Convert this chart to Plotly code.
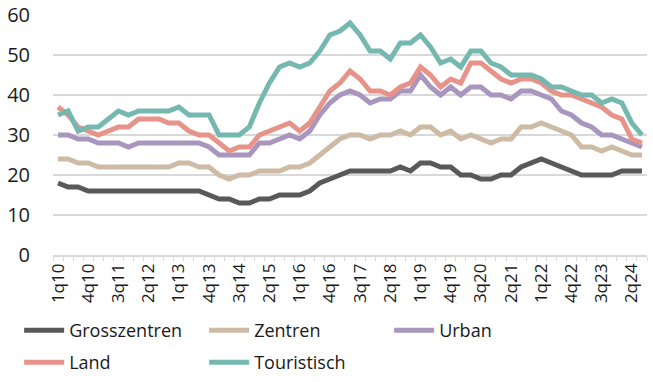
import plotly.graph_objects as go

quarters = [
    "1q10", "2q10", "3q10", "4q10", "1q11", "2q11", "3q11", "4q11",
    "1q12", "2q12", "3q12", "4q12", "1q13", "2q13", "3q13", "4q13",
    "1q14", "2q14", "3q14", "4q14", "1q15", "2q15", "3q15", "4q15",
    "1q16", "2q16", "3q16", "4q16", "1q17", "2q17", "3q17", "4q17",
    "1q18", "2q18", "3q18", "4q18", "1q19", "2q19", "3q19", "4q19",
    "1q20", "2q20", "3q20", "4q20", "1q21", "2q21", "3q21", "4q21",
    "1q22", "2q22", "3q22", "4q22", "1q23", "2q23", "3q23", "4q23",
    "1q24", "2q24", "3q24",
]
tick_labels = ["1q10", "4q10", "3q11", "2q12", "1q13", "4q13", "3q14", "2q15",
               "1q16", "4q16", "3q17", "2q18", "1q19", "4q19", "3q20", "2q21",
               "1q22", "4q22", "3q23", "2q24"]

grosszentren = [18, 17, 17, 16, 16, 16, 16, 16, 16, 16, 16, 16,
                16, 16, 16, 15, 14, 14, 13, 13, 14, 14, 15, 15,
                15, 16, 18, 19, 20, 21, 21, 21, 21, 21, 22, 21,
                23, 23, 22, 22, 20, 20, 19, 19, 20, 20, 22, 23,
                24, 23, 22, 21, 20, 20, 20, 20, 21, 21, 21]
zentren = [24, 24, 23, 23, 22, 22, 22, 22, 22, 22, 22, 22,
           23, 23, 22, 22, 20, 19, 20, 20, 21, 21, 21, 22,
           22, 23, 25, 27, 29, 30, 30, 29, 30, 30, 31, 30,
           32, 32, 30, 31, 29, 30, 29, 28, 29, 29, 32, 32,
           33, 32, 31, 30, 27, 27, 26, 27, 26, 25, 25]
urban = [30, 30, 29, 29, 28, 28, 28, 27, 28, 28, 28, 28,
         28, 28, 28, 27, 25, 25, 25, 25, 28, 28, 29, 30,
         29, 31, 35, 38, 40, 41, 40, 38, 39, 39, 41, 41,
         45, 42, 40, 42, 40, 42, 42, 40, 40, 39, 41, 41,
         40, 39, 36, 35, 33, 32, 30, 30, 29, 28, 27]
land = [37, 35, 32, 31, 30, 31, 32, 32, 34, 34, 34, 33,
        33, 31, 30, 30, 28, 26, 27, 27, 30, 31, 32, 33,
        31, 33, 37, 41, 43, 46, 44, 41, 41, 40, 42, 43,
        47, 45, 42, 44, 43, 48, 48, 46, 44, 43, 44, 44,
        43, 41, 40, 40, 39, 38, 37, 35, 34, 29, 28]
touristisch = [35, 36, 31, 32, 32, 34, 36, 35, 36, 36, 36, 36,
               37, 35, 35, 35, 30, 30, 30, 32, 38, 43, 47, 48,
               47, 48, 51, 55, 56, 58, 55, 51, 51, 49, 53, 53,
               55, 52, 48, 49, 47, 51, 51, 48, 47, 45, 45, 45,
               44, 42, 42, 41, 40, 40, 38, 39, 38, 33, 30]

series = [
    ("Grosszentren", grosszentren, "#595959", "legend"),
    ("Zentren", zentren, "#cdbba6", "legend"),
    ("Urban", urban, "#a996be", "legend"),
    ("Land", land, "#e8938a", "legend2"),
    ("Touristisch", touristisch, "#74b8af", "legend2"),
]

FONT = "Open Sans"
fig = go.Figure()
for name, vals, col, lg in series:
    fig.add_trace(go.Scatter(x=quarters, y=vals, name=name, mode="lines",
                             line=dict(color=col, width=5), legend=lg))

ticktext = [q if q in tick_labels else "" for q in quarters]

legend_common = dict(orientation="h", xanchor="left", yanchor="top",
                     entrywidth=130, entrywidthmode="pixels", itemwidth=40,
                     font=dict(family=FONT, size=18, color="#1a1a1a"),
                     tracegroupgap=0, bgcolor="rgba(0,0,0,0)")

fig.update_layout(
    width=653, height=382,
    margin=dict(l=53, r=6, t=15, b=127, autoexpand=False),
    plot_bgcolor="white", paper_bgcolor="white",
    font=dict(family=FONT, size=17, color="#1a1a1a"),
    showlegend=True,
    legend=dict(x=-0.057, y=-0.2375, **legend_common),
    legend2=dict(x=-0.057, y=-0.371, **legend_common),
    xaxis=dict(type="category", categoryorder="array", categoryarray=quarters,
               tickmode="array", tickvals=quarters, ticktext=ticktext,
               tickangle=-90, tickson="boundaries", ticks="outside", ticklen=4,
               tickcolor="#d9d9d9", tickwidth=1, showgrid=False,
               showline=True, linecolor="#d9d9d9", linewidth=1.5,
               tickfont=dict(family=FONT, size=17, color="#1a1a1a"),
               range=[-0.5, len(quarters) - 0.5]),
    yaxis=dict(range=[0, 60], dtick=10, tick0=0, showgrid=True,
               gridcolor="#d9d9d9", gridwidth=1.5, zeroline=False,
               ticks="", ticklabelstandoff=22,
               tickfont=dict(family=FONT, size=20, color="#1a1a1a")),
)

fig.write_html("out.html", config={"displayModeBar": False},
               post_script="document.body.style.margin='0';")
